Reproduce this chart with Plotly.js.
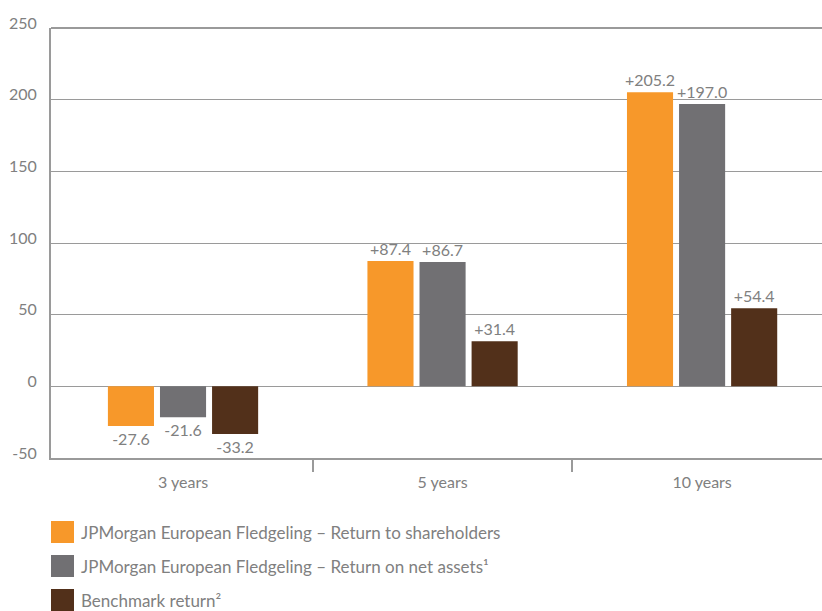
<!DOCTYPE html>
<html>
<head>
<meta charset="utf-8">
<script src="https://cdn.plot.ly/plotly-3.0.1.min.js"></script>
<style>
  html, body { margin: 0; padding: 0; background: #fff; }
  #chart { width: 822px; height: 611px; }
</style>
</head>
<body>
<div id="chart"></div>
<script>
// Cumulative total returns (%) by period
const periods = ['3 years', '5 years', '10 years'];
const shareholderReturn = [-27.6, 87.4, 205.2];
const netAssetReturn = [-21.6, 86.7, 197.0];
const benchmarkReturn = [-33.2, 31.4, 54.4];

const seriesNames = [
  'JPMorgan European Fledgeling – Return to shareholders',
  'JPMorgan European Fledgeling – Return on net assets¹',
  'Benchmark return²'
];
const seriesColors = ['#F7982A', '#717073', '#52301A'];
const yTicks = [-50, 0, 50, 100, 150, 200, 250];

const textGrey = '#808080';
const lineGrey = '#9a9a9a';
const fontFamily = 'Lato, "Open Sans", sans-serif';

function fmt(v) {
  return (v > 0 ? '+' : '') + v.toFixed(1);
}

// Category positions as numbers so the boundary ticks can sit between groups
const xPos = periods.map((_, i) => i);
const xRange = [-0.5087, 2.462];

const seriesValues = [shareholderReturn, netAssetReturn, benchmarkReturn];
const traces = seriesValues.map((vals, i) => ({
  type: 'bar',
  x: xPos,
  y: vals,
  name: seriesNames[i],
  marker: { color: seriesColors[i], line: { width: 0 } },
  text: vals.map(fmt),
  textposition: 'outside',
  constraintext: 'none',
  cliponaxis: false,
  textfont: { family: fontFamily, size: 16, color: textGrey },
  hoverinfo: 'skip',
  showlegend: false
}));

// Invisible trace on the overlaid axis that carries the boundary ticks
traces.push({
  type: 'scatter', mode: 'none',
  x: [xRange[0], xRange[1]], y: [0, 0],
  xaxis: 'x2', yaxis: 'y',
  hoverinfo: 'skip', showlegend: false
});

// Plot area geometry in pixels
const W = 822, H = 611;
const mL = 51, mR = 0, mT = 28, mB = 153;
const plotH = H - mT - mB;
const pyToPaper = py => (H - mB - py) / plotH;
const pxToPaper = px => (px - mL) / (W - mL - mR);

// Legend drawn below the plot: swatches and labels
const shapes = [];
const annotations = [];
const legendTop = 521, legendStep = 34, swatch = 22;
seriesNames.forEach((name, i) => {
  const top = legendTop + i * legendStep;
  shapes.push({
    type: 'rect', xref: 'paper', yref: 'paper',
    x0: pxToPaper(51), x1: pxToPaper(74),
    y0: pyToPaper(top + swatch), y1: pyToPaper(top),
    fillcolor: seriesColors[i], line: { width: 0 }
  });
  annotations.push({
    xref: 'paper', yref: 'paper',
    x: pxToPaper(79), y: pyToPaper(top + swatch / 2),
    xanchor: 'left', yanchor: 'middle',
    text: name, showarrow: false,
    font: { family: fontFamily, size: 17, color: textGrey }
  });
});

// Heavier rule along the top of the plot
shapes.push({
  type: 'line', xref: 'paper', yref: 'paper',
  x0: 0, x1: 1, y0: 1, y1: 1,
  line: { color: lineGrey, width: 2 }
});

const layout = {
  width: W, height: H,
  margin: { l: mL, r: mR, t: mT, b: mB, pad: 0 },
  paper_bgcolor: '#fff', plot_bgcolor: '#fff',
  barmode: 'group',
  bargap: 0.398,
  bargroupgap: 0.115,
  font: { family: fontFamily, size: 16, color: textGrey },
  xaxis: {
    range: xRange,
    tickvals: xPos,
    ticktext: periods,
    ticks: '',
    showgrid: false, zeroline: false,
    showline: true, linecolor: lineGrey, linewidth: 2,
    ticklabelstandoff: 9,
    tickfont: { family: fontFamily, size: 16, color: textGrey },
    fixedrange: true
  },
  xaxis2: {
    overlaying: 'x',
    anchor: 'y',
    side: 'bottom',
    range: xRange,
    tickvals: [0.5, 1.5],
    showticklabels: false,
    ticks: 'outside', ticklen: 13, tickwidth: 2, tickcolor: lineGrey,
    showgrid: false, zeroline: false, showline: false,
    fixedrange: true
  },
  yaxis: {
    range: [-50, 250],
    tickvals: yTicks,
    ticktext: yTicks.map(String),
    ticks: '', showgrid: true, gridcolor: lineGrey, gridwidth: 1,
    zeroline: true, zerolinecolor: lineGrey, zerolinewidth: 1,
    showline: true, linecolor: lineGrey, linewidth: 2,
    ticklabelstandoff: 9,
    ticklabelshift: -5,
    tickfont: { family: fontFamily, size: 16, color: textGrey },
    fixedrange: true
  },
  shapes: shapes,
  annotations: annotations,
  showlegend: false
};

Plotly.newPlot('chart', traces, layout, { displayModeBar: false, staticPlot: true });
</script>
</body>
</html>
